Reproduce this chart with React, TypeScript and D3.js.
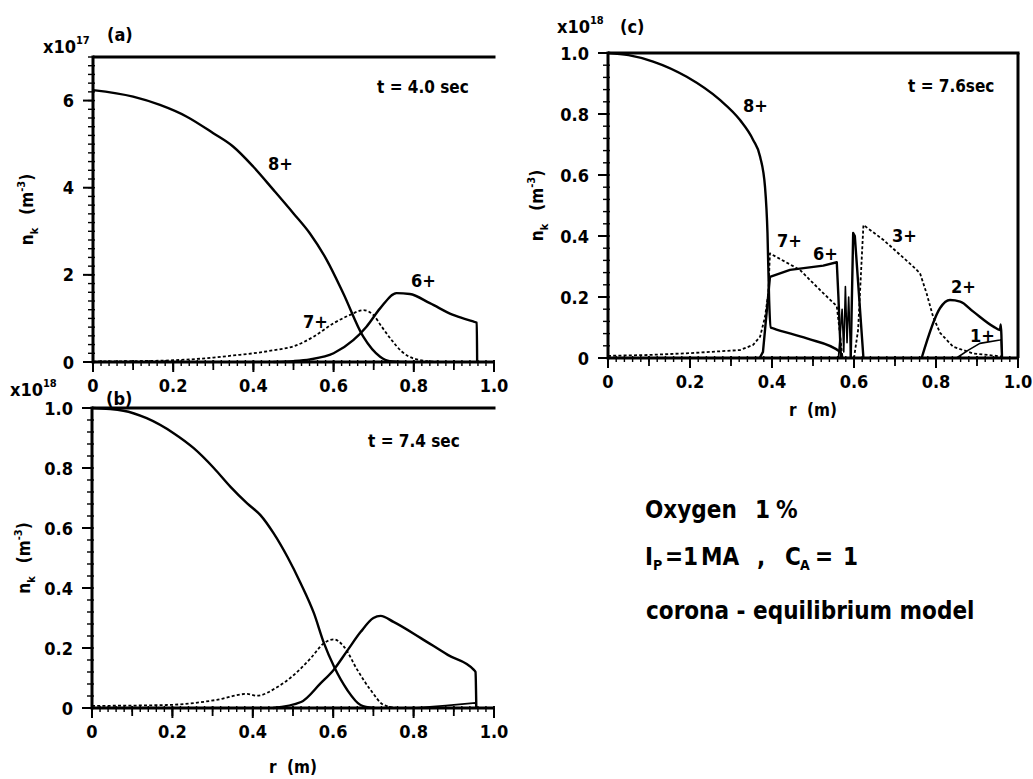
import React from "react";
import * as d3 from "d3";

type Pt = [number, number];

// ---- Panel (a): t = 4.0 sec, n_k in units of 1e17 m^-3 ----
const a_O8: Pt[] = [
  [0, 6.24], [0.1, 6.09], [0.167, 5.9], [0.234, 5.63], [0.3, 5.25], [0.35, 4.94],
  [0.4, 4.48], [0.45, 3.95], [0.5, 3.41], [0.541, 2.95], [0.583, 2.34], [0.624, 1.58],
  [0.674, 0.58], [0.716, 0.12], [0.74, 0.02], [0.78, 0],
];
const a_O7: Pt[] = [
  [0, 0.01], [0.1, 0.02], [0.2, 0.04], [0.3, 0.1], [0.35, 0.15], [0.4, 0.2], [0.45, 0.27],
  [0.5, 0.36], [0.55, 0.58], [0.6, 0.89], [0.641, 1.08], [0.674, 1.19], [0.699, 1.08],
  [0.72, 0.81], [0.745, 0.5], [0.77, 0.24], [0.8, 0.08], [0.85, 0.01], [0.9, 0],
];
const a_O6: Pt[] = [
  [0.45, 0], [0.5, 0.02], [0.541, 0.06], [0.6, 0.2], [0.649, 0.5], [0.682, 0.81],
  [0.716, 1.23], [0.757, 1.58], [0.79, 1.56], [0.84, 1.35], [0.898, 1.08], [0.948, 0.93],
  [0.957, 0.9], [0.958, 0],
];

// ---- Panel (b): t = 7.4 sec, n_k in units of 1e18 m^-3 ----
const b_O8: Pt[] = [
  [0, 1.0], [0.078, 0.991], [0.136, 0.966], [0.203, 0.916], [0.253, 0.866], [0.303, 0.8],
  [0.344, 0.738], [0.386, 0.682], [0.419, 0.643], [0.452, 0.582], [0.486, 0.504],
  [0.519, 0.416], [0.552, 0.316], [0.577, 0.216], [0.602, 0.138], [0.635, 0.06],
  [0.668, 0.01], [0.7, 0],
];
const b_O7: Pt[] = [
  [0, 0.007], [0.186, 0.01], [0.31, 0.027], [0.386, 0.047], [0.41, 0.041], [0.46, 0.069],
  [0.502, 0.11], [0.544, 0.166], [0.577, 0.216], [0.602, 0.229], [0.627, 0.204],
  [0.66, 0.127], [0.693, 0.06], [0.726, 0.01], [0.76, 0],
];
const b_O6: Pt[] = [
  [0.45, 0], [0.52, 0.02], [0.569, 0.083], [0.601, 0.127], [0.636, 0.193], [0.668, 0.253],
  [0.7, 0.3], [0.718, 0.307], [0.75, 0.287], [0.818, 0.233], [0.885, 0.177], [0.95, 0.127],
  [0.954, 0.12], [0.956, 0],
];
const b_O5: Pt[] = [
  [0.8, 0], [0.88, 0.008], [0.954, 0.017], [0.956, 0],
];

// ---- Panel (c): t = 7.6 sec, n_k in units of 1e18 m^-3 ----
const c_O8: Pt[] = [
  [0, 1.0], [0.05, 0.993], [0.11, 0.972], [0.192, 0.922], [0.273, 0.846], [0.322, 0.78],
  [0.354, 0.715], [0.371, 0.66], [0.383, 0.56], [0.389, 0.409], [0.393, 0.19],
  [0.397, 0.1], [0.403, 0.097], [0.485, 0.064], [0.566, 0.02], [0.572, 0],
];
const c_O7: Pt[] = [
  [0, 0.007], [0.1, 0.01], [0.2, 0.016], [0.322, 0.026], [0.354, 0.043], [0.371, 0.07],
  [0.383, 0.135], [0.391, 0.212], [0.395, 0.343], [0.468, 0.289], [0.517, 0.223],
  [0.558, 0.17], [0.564, 0.1], [0.572, 0],
];
const c_O6: Pt[] = [
  [0.37, 0], [0.378, 0.02], [0.395, 0.266], [0.444, 0.289], [0.525, 0.303], [0.558, 0.314],
  [0.562, 0.2], [0.568, 0],
];
const c_O5: Pt[] = [
  [0.562, 0], [0.571, 0.16], [0.575, 0.02], [0.579, 0.234], [0.583, 0.05], [0.587, 0.2],
  [0.592, 0],
];
const c_O4: Pt[] = [
  [0.592, 0], [0.598, 0.41], [0.602, 0.4], [0.623, 0],
];
const c_O3: Pt[] = [
  [0.6, 0], [0.61, 0.092], [0.623, 0.436], [0.672, 0.387], [0.745, 0.299], [0.761, 0.278],
  [0.777, 0.212], [0.793, 0.135], [0.81, 0.082], [0.842, 0.037], [0.89, 0.015],
  [0.96, 0.005],
];
const c_O2: Pt[] = [
  [0.765, 0], [0.81, 0.164], [0.834, 0.19], [0.859, 0.185], [0.891, 0.152], [0.94, 0.103],
  [0.956, 0.092], [0.958, 0.11], [0.961, 0],
];
const c_O1: Pt[] = [
  [0.85, 0], [0.879, 0.026], [0.907, 0.048], [0.956, 0.059], [0.959, 0.06], [0.961, 0],
];

// Axis tick labels
const xTickLabels = ["0", "0.2", "0.4", "0.6", "0.8", "1.0"];
const yTickLabelsA = ["0", "2", "4", "6"];
const yTickLabelsBC = ["0", "0.2", "0.4", "0.6", "0.8", "1.0"];

const FONT = "'DejaVu Sans Condensed', 'Liberation Sans Narrow', 'DejaVu Sans', sans-serif";

type Series = { data: Pt[]; dashed?: boolean; smooth?: boolean; thin?: boolean };
type Tag = { text: string; x: number; y: number };

type PanelCfg = {
  left: number; right: number; top: number; bottom: number;
  rightBorder: boolean;
  yMax: number; yMajorStep: number; yMinorStep: number; yLabels: string[];
  series: Series[]; tags: Tag[];
  exp: string; expX: number; expY: number;
  letter: string; letterX: number; letterY: number;
  time: string; timeX: number; timeY: number;
  yTitleX: number;
  xTitleY?: number;
};

function Panel({ cfg }: { cfg: PanelCfg }) {
  const x = d3.scaleLinear().domain([0, 1]).range([cfg.left, cfg.right]);
  const y = d3.scaleLinear().domain([0, cfg.yMax]).range([cfg.bottom, cfg.top]);

  const xMinor = d3.range(0, 51).map((i) => i / 50);
  const xMid = d3.range(0, 11).map((i) => i / 10);
  const xMajor = d3.range(0, 6).map((i) => i / 5);
  const nMinorY = Math.round(cfg.yMax / cfg.yMinorStep);
  const yMinor = d3.range(0, nMinorY + 1).map((i) => i * cfg.yMinorStep);
  const yMajor = cfg.yLabels.map((_, i) => i * cfg.yMajorStep);

  const lineFor = (s: Series) =>
    d3
      .line<Pt>()
      .x((d) => x(d[0]))
      .y((d) => y(d[1]))
      .curve(s.smooth ? d3.curveMonotoneX : d3.curveLinear)(s.data) || "";

  const midY = (cfg.top + cfg.bottom) / 2;

  return (
    <g fontFamily={FONT} fontWeight="bold" fill="#000">
      {/* curves */}
      {cfg.series.map((s, i) => (
        <path
          key={"s" + i}
          d={lineFor(s)}
          fill="none"
          stroke="#000"
          strokeWidth={s.dashed ? 1.8 : s.thin ? 1.6 : 2.4}
          strokeDasharray={s.dashed ? "3 2.2" : undefined}
          strokeLinejoin="round"
        />
      ))}

      {/* x ticks */}
      {xMinor.map((v, i) => (
        <line key={"xm" + i} x1={x(v)} x2={x(v)} y1={cfg.bottom - 2} y2={cfg.bottom + 4} stroke="#000" strokeWidth={1.4} />
      ))}
      {xMid.map((v, i) => (
        <line key={"xq" + i} x1={x(v)} x2={x(v)} y1={cfg.bottom - 2} y2={cfg.bottom + 8} stroke="#000" strokeWidth={1.8} />
      ))}
      {xMajor.map((v, i) => (
        <line key={"xM" + i} x1={x(v)} x2={x(v)} y1={cfg.bottom} y2={cfg.bottom + 10} stroke="#000" strokeWidth={2} />
      ))}
      {xMajor.map((v, i) => (
        <text key={"xl" + i} x={x(v)} y={cfg.bottom + 30} fontSize={18} textAnchor="middle">
          {xTickLabels[i]}
        </text>
      ))}

      {/* y ticks */}
      {yMinor.map((v, i) => (
        <line key={"ym" + i} x1={cfg.left - 5} x2={cfg.left + 2} y1={y(v)} y2={y(v)} stroke="#000" strokeWidth={1.4} />
      ))}
      {yMajor.map((v, i) => (
        <line key={"yM" + i} x1={cfg.left - 10} x2={cfg.left} y1={y(v)} y2={y(v)} stroke="#000" strokeWidth={2} />
      ))}
      {yMajor.map((v, i) => (
        <text key={"yl" + i} x={cfg.left - 19} y={y(v) + 6.5} fontSize={18} textAnchor="end">
          {cfg.yLabels[i]}
        </text>
      ))}

      {/* frame */}
      <line x1={cfg.left} x2={cfg.right + 1.5} y1={cfg.top} y2={cfg.top} stroke="#000" strokeWidth={3} />
      {cfg.rightBorder && (
        <line x1={cfg.right} x2={cfg.right} y1={cfg.top} y2={cfg.bottom} stroke="#000" strokeWidth={3} />
      )}
      <line x1={cfg.left} x2={cfg.right} y1={cfg.bottom} y2={cfg.bottom} stroke="#000" strokeWidth={3} />
      <line x1={cfg.left} x2={cfg.left} y1={cfg.top - 1.5} y2={cfg.bottom + 1.5} stroke="#000" strokeWidth={3} />

      {/* series tags */}
      {cfg.tags.map((t, i) => (
        <text key={"t" + i} x={t.x} y={t.y} fontSize={18}>
          {t.text}
        </text>
      ))}

      {/* scale factor and panel letter */}
      <text x={cfg.expX} y={cfg.expY} fontSize={18}>
        x10
        <tspan dy={-9} fontSize={11}>{cfg.exp}</tspan>
      </text>
      <text x={cfg.letterX} y={cfg.letterY} fontSize={18}>
        {cfg.letter}
      </text>
      <text x={cfg.timeX} y={cfg.timeY} fontSize={17}>
        {cfg.time}
      </text>

      {/* y title */}
      <text transform={`translate(${cfg.yTitleX},${midY}) rotate(-90)`} fontSize={17} textAnchor="middle">
        n<tspan dy={5} fontSize={11}>k</tspan>
        <tspan dy={-5}>{"\u2002 (m"}</tspan>
        <tspan dy={-8} fontSize={11}>-3</tspan>
        <tspan dy={8}>)</tspan>
      </text>

      {/* x title */}
      {cfg.xTitleY !== undefined && (
        <text x={(cfg.left + cfg.right) / 2} y={cfg.xTitleY} fontSize={17} textAnchor="middle" style={{ whiteSpace: "pre" }}>
          {"r  (m)"}
        </text>
      )}
    </g>
  );
}

const panelA: PanelCfg = {
  left: 93, right: 494, top: 57, bottom: 362, rightBorder: false,
  yMax: 7, yMajorStep: 2, yMinorStep: 0.2, yLabels: yTickLabelsA,
  series: [
    { data: a_O8, smooth: true },
    { data: a_O7, smooth: true, dashed: true },
    { data: a_O6, smooth: true },
  ],
  tags: [
    { text: "8+", x: 268, y: 170 },
    { text: "7+", x: 303, y: 328 },
    { text: "6+", x: 411, y: 287 },
  ],
  exp: "17", expX: 43, expY: 53,
  letter: "(a)", letterX: 107, letterY: 41,
  time: "t = 4.0 sec", timeX: 377, timeY: 93,
  yTitleX: 33,
};

const panelB: PanelCfg = {
  left: 92, right: 494, top: 408, bottom: 708, rightBorder: false,
  yMax: 1, yMajorStep: 0.2, yMinorStep: 0.04, yLabels: yTickLabelsBC,
  series: [
    { data: b_O8, smooth: true },
    { data: b_O7, smooth: true, dashed: true },
    { data: b_O6, smooth: true },
    { data: b_O5, thin: true },
  ],
  tags: [],
  exp: "18", expX: 10, expY: 396,
  letter: "(b)", letterX: 106, letterY: 405,
  time: "t = 7.4 sec", timeX: 368, timeY: 447,
  yTitleX: 30,
  xTitleY: 773,
};

const panelC: PanelCfg = {
  left: 608, right: 1018, top: 53, bottom: 358, rightBorder: true,
  yMax: 1, yMajorStep: 0.2, yMinorStep: 0.04, yLabels: yTickLabelsBC,
  series: [
    { data: c_O8, smooth: true },
    { data: c_O7, dashed: true },
    { data: c_O6 },
    { data: c_O5, thin: true },
    { data: c_O4 },
    { data: c_O3, dashed: true },
    { data: c_O2, smooth: true },
    { data: c_O1, thin: true },
  ],
  tags: [
    { text: "8+", x: 743, y: 112 },
    { text: "7+", x: 777, y: 247 },
    { text: "6+", x: 813, y: 260 },
    { text: "3+", x: 892, y: 242 },
    { text: "2+", x: 951, y: 293 },
    { text: "1+", x: 970, y: 342 },
  ],
  exp: "18", expX: 557, expY: 33,
  letter: "(c)", letterX: 620, letterY: 33,
  time: "t = 7.6sec", timeX: 908, timeY: 92,
  yTitleX: 543,
  xTitleY: 416,
};

export default function App() {
  return (
    <svg
      width={1033}
      height={779}
      viewBox="0 0 1033 779"
      style={{ position: "absolute", left: 0, top: 0, background: "#fff" }}
    >
      <rect width={1033} height={779} fill="#fff" />
      <Panel cfg={panelA} />
      <Panel cfg={panelB} />
      <Panel cfg={panelC} />

      {/* run conditions */}
      <g fontFamily={FONT} fontWeight="bold" fontSize={24} fill="#000" style={{ whiteSpace: "pre" }}>
        <text x={645} y={518}>Oxygen</text>
        <text x={755} y={518}>1</text>
        <text x={776} y={518}>%</text>

        <text x={645} y={565}>I</text>
        <text x={653} y={570} fontSize={14}>P</text>
        <text x={665} y={565}>=</text>
        <text x={683} y={565}>1</text>
        <text x={701} y={565}>MA</text>
        <text x={757} y={565}>,</text>
        <text x={785} y={565}>C</text>
        <text x={800} y={570} fontSize={14}>A</text>
        <text x={815} y={565}>=</text>
        <text x={843} y={565}>1</text>

        <text x={646} y={619}>{"corona - equilibrium  model"}</text>
      </g>
    </svg>
  );
}
